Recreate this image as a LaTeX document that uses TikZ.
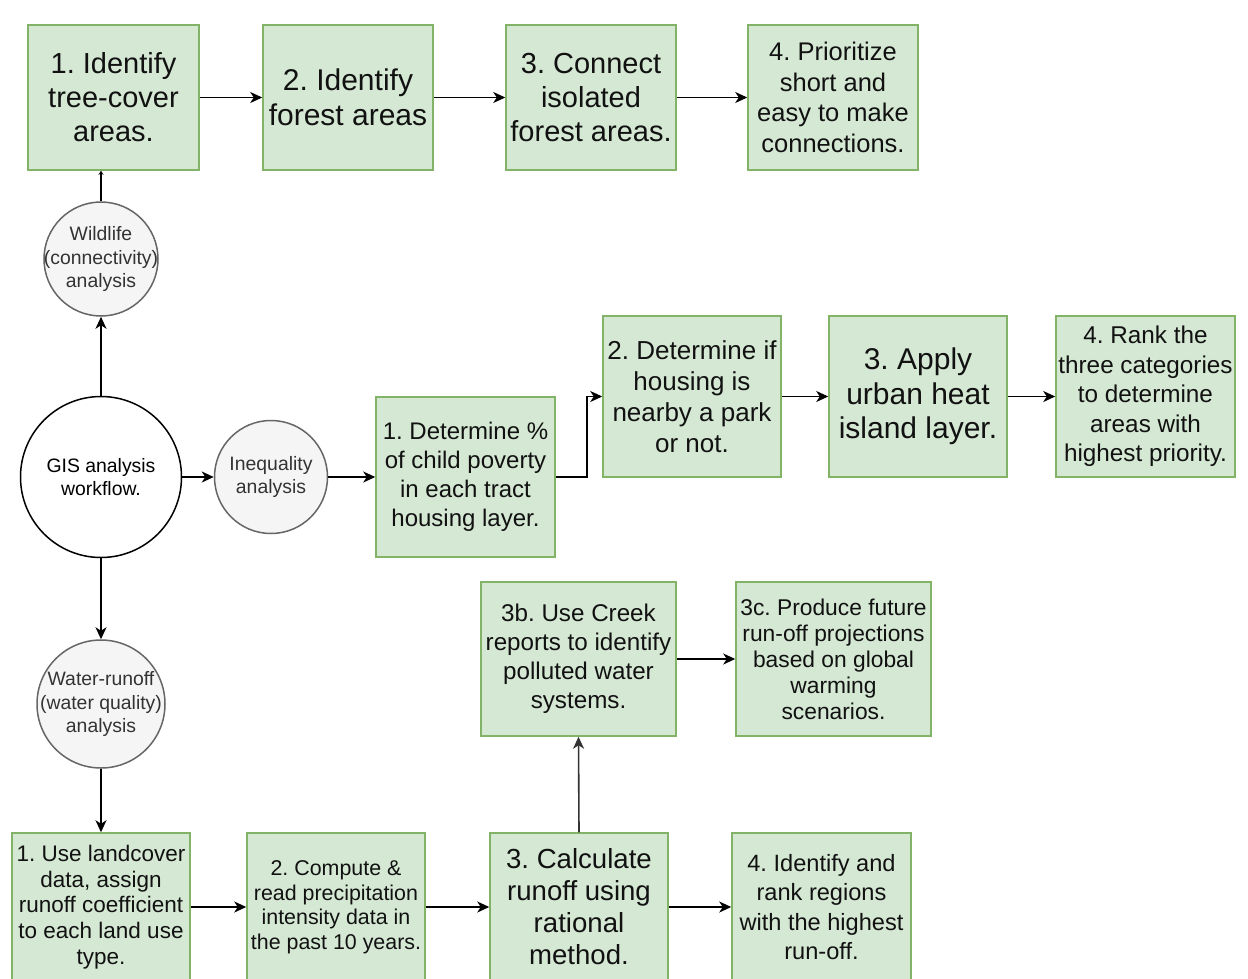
\documentclass[tikz,border=0pt]{standalone}
\usepackage{fontspec}
\setmainfont{Liberation Sans}
\usetikzlibrary{arrows.meta}
\definecolor{boxfill}{HTML}{D5E8D4}
\definecolor{boxline}{HTML}{82B366}
\definecolor{circfill}{HTML}{F5F5F5}
\definecolor{circline}{HTML}{666666}
\definecolor{circtext}{HTML}{333333}
\definecolor{boxtext}{HTML}{111111}
\newcommand{\fs}[2]{\fontsize{#1}{#2}\selectfont}
\frenchspacing
\tikzset{
  box/.style={rectangle, draw=boxline, fill=boxfill, line width=1.5pt, inner sep=0pt, align=center, text=boxtext},
  circnode/.style={circle, draw=circline, fill=circfill, line width=1.5pt, inner sep=0pt},
  circlabel/.style={align=center, text=circtext, font=\fs{19.4}{23.5}, inner sep=0pt},
  arr/.style={-{Stealth[length=12pt,width=11pt,inset=3.5pt]}, line width=1.6pt, draw=black},
}
\begin{document}
\frenchspacing
\begin{tikzpicture}[x=1pt,y=-1pt]
\useasboundingbox[fill=white] (0,0) rectangle (1248,978);
% top row
\node[box, minimum width=171, minimum height=145, font=\fs{29}{34}] (A1) at (113.5,97.5) {1. Identify\\tree-cover\\areas.};
\node[box, minimum width=170, minimum height=145, font=\fs{30}{35}] (A2) at (348,97.5) {2. Identify\\forest areas};
\node[box, minimum width=170, minimum height=145, font=\fs{29}{34}] (A3) at (591,97.5) {3. Connect\\isolated\\forest areas.};
\node[box, minimum width=170, minimum height=145, font=\fs{25.5}{30.5}] (A4) at (833,97.5) {4. Prioritize\\short and\\easy to make\\connections.};
% circles
\node[circnode, minimum size=114, label={[circlabel]center:{Wildlife\\(connectivity)\\analysis}}] (wild) at (101,259) {};
\node[circle, draw=black, fill=white, line width=1.5pt, inner sep=0pt, minimum size=161, label={[circlabel, text=black]center:{GIS analysis\\workflow.}}] (gis) at (101,477) {};
\node[circnode, minimum size=113, label={[circlabel]center:{Inequality\\analysis}}] (ineq) at (271,477) {};
\node[circnode, minimum size=128, label={[circlabel]center:{Water-runoff\\(water quality)\\analysis}}] (water) at (101,704) {};
% middle row
\node[box, minimum width=179, minimum height=160, font=\fs{24}{29}] (B1) at (465.5,477) {1. Determine \%\\of child poverty\\in each tract\\housing layer.};
\node[box, minimum width=178, minimum height=161, font=\fs{26}{31}] (B2) at (692,396.5) {2. Determine if\\housing is\\nearby a park\\or not.};
\node[box, minimum width=178, minimum height=161, font=\fs{30}{34.5}] (B3) at (918,396.5) {3. Apply\\urban heat\\island layer.};
\node[box, minimum width=179, minimum height=161, font=\fs{24.3}{29.5}] (B4) at (1145.5,396.5) {4. Rank the\\three categories\\to determine\\areas with\\highest priority.};
% bottom
\node[box, minimum width=195, minimum height=154, font=\fs{24.2}{29}] (C3b) at (578.5,659) {3b. Use Creek\\reports to identify\\polluted water\\systems.};
\node[box, minimum width=195, minimum height=154, font=\fs{22.8}{26}] (C3c) at (833.5,659) {3c. Produce future\\run-off projections\\based on global\\warming\\scenarios.};
\node[box, minimum width=178, minimum height=148, font=\fs{22.5}{25.7}] (C1) at (101,907) {1. Use landcover\\data, assign\\runoff coefficient\\to each land use\\type.};
\node[box, minimum width=178, minimum height=148, font=\fs{21.4}{24.5}] (C2) at (336,907) {2. Compute \&\\read precipitation\\intensity data in\\the past 10 years.};
\node[box, minimum width=178, minimum height=148, font=\fs{27.6}{32}] (C3) at (579,907) {3. Calculate\\runoff using\\rational\\method.};
\node[box, minimum width=179, minimum height=148, font=\fs{23.6}{29.5}] (C4) at (821.5,907) {4. Identify and\\rank regions\\with the highest\\run-off.};
% connectors
\draw[arr] (A1) -- (A2);
\draw[arr] (A2) -- (A3);
\draw[arr] (A3) -- (A4);
\draw[-{Stealth[length=4pt,width=5pt]}, line width=1.6pt] (wild.north) -- (wild.north |- A1.south);
\draw[arr] (gis.north) -- (wild.south);
\draw[arr] (gis.east) -- (ineq.west);
\draw[arr] (ineq.east) -- (B1.west);
\draw[arr] (B1.east) -- ++(31,0) |- (B2.west);
\draw[arr] (B2) -- (B3);
\draw[arr] (B3) -- (B4);
\draw[arr] (gis.south) -- (water.north);
\draw[arr] (water.south) -- (water.south |- C1.north);
\draw[arr] (C1) -- (C2);
\draw[arr] (C2) -- (C3);
\draw[arr] (C3) -- (C4);
\draw[arr, draw=circtext] (C3.north) -- (C3b.south);
\draw[arr] (C3b) -- (C3c);
\end{tikzpicture}
\end{document}
